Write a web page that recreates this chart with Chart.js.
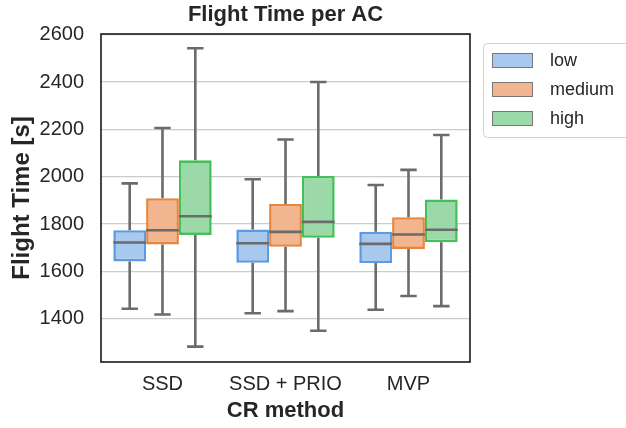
<!DOCTYPE html>
<html>
<head>
<meta charset="utf-8">
<script src="https://cdn.jsdelivr.net/npm/chart.js@4"></script>
<style>
  html, body { margin: 0; padding: 0; background: #ffffff; }
  #wrap { width: 626px; height: 428px; }
</style>
</head>
<body>
<div id="wrap"><canvas id="c" width="626" height="428"></canvas></div>
<script>
// ---- data ----
const categories = ['SSD', 'SSD + PRIO', 'MVP'];
const seriesNames = ['low', 'medium', 'high'];
// each entry: [whiskerLow, q1, median, q3, whiskerHigh]
const lowBoxes    = [[1442, 1642, 1722, 1774, 1972], [1423, 1636, 1719, 1777, 1989], [1438, 1635, 1716, 1767, 1965]];
const mediumBoxes = [[1418, 1714, 1774, 1909, 2206], [1432, 1704, 1767, 1885, 2157], [1496, 1695, 1756, 1829, 2029]];
const highBoxes   = [[1282, 1754, 1833, 2069, 2543], [1349, 1742, 1809, 2003, 2400], [1453, 1723, 1776, 1904, 2176]];
const yTicks = [1400, 1600, 1800, 2000, 2200, 2400, 2600];

const fillColors = ['#a9c8ee', '#f1b68f', '#9cd9a8'];
const edgeColors = ['#5b9be0', '#e8843c', '#45bf5a'];
const seriesBoxes = [lowBoxes, mediumBoxes, highBoxes];

const FONT = '"Liberation Sans", Arial, sans-serif';
const TEXT = '#262626';
const WHISKER = '#6b6b6b';

const boxPlugin = {
  id: 'boxParts',
  afterDatasetsDraw(chart) {
    const ctx = chart.ctx;
    const y = chart.scales.y;
    ctx.save();
    ctx.strokeStyle = WHISKER;
    ctx.lineWidth = 2.6;
    ctx.lineCap = 'butt';
    chart.data.datasets.forEach((ds, di) => {
      const meta = chart.getDatasetMeta(di);
      meta.data.forEach((el, i) => {
        const s = ds.stats[i];
        const cx = el.x;
        const w = el.width;
        const pMin = y.getPixelForValue(s[0]);
        const pQ1 = y.getPixelForValue(s[1]);
        const pMed = y.getPixelForValue(s[2]);
        const pQ3 = y.getPixelForValue(s[3]);
        const pMax = y.getPixelForValue(s[4]);
        ctx.beginPath();
        ctx.moveTo(cx, pQ3); ctx.lineTo(cx, pMax);
        ctx.moveTo(cx, pQ1); ctx.lineTo(cx, pMin);
        ctx.moveTo(cx - w / 4, pMax); ctx.lineTo(cx + w / 4, pMax);
        ctx.moveTo(cx - w / 4, pMin); ctx.lineTo(cx + w / 4, pMin);
        ctx.moveTo(cx - w / 2, pMed); ctx.lineTo(cx + w / 2, pMed);
        ctx.stroke();
      });
    });
    ctx.restore();
  },
  afterDraw(chart) {
    const ctx = chart.ctx;
    const a = chart.chartArea;
    ctx.save();
    // frame
    ctx.strokeStyle = '#1a1a1a';
    ctx.lineWidth = 1.6;
    ctx.strokeRect(a.left, a.top, a.right - a.left, a.bottom - a.top);
    // legend
    const lx = a.right + 13, ly = a.top + 9, lw = 150, lh = 94;
    ctx.fillStyle = '#ffffff';
    ctx.strokeStyle = '#d0d0d0';
    ctx.lineWidth = 1;
    ctx.beginPath();
    ctx.roundRect(lx + 0.5, ly + 0.5, lw, lh, 4);
    ctx.fill();
    ctx.stroke();
    ctx.font = '18px ' + FONT;
    ctx.textBaseline = 'middle';
    ctx.textAlign = 'left';
    chart.data.datasets.forEach((ds, i) => {
      const ry = ly + 17 + i * 29;
      ctx.fillStyle = ds.backgroundColor;
      ctx.fillRect(lx + 9, ry - 7, 40, 14);
      ctx.strokeStyle = '#777777';
      ctx.lineWidth = 1;
      ctx.strokeRect(lx + 9.5, ry - 6.5, 40, 14);
      ctx.fillStyle = TEXT;
      ctx.fillText(ds.label, lx + 67, ry + 1);
    });
    ctx.restore();
  }
};

const datasets = seriesNames.map((name, k) => ({
  label: name,
  data: seriesBoxes[k].map(b => [b[1], b[3]]),
  stats: seriesBoxes[k],
  backgroundColor: fillColors[k],
  borderColor: edgeColors[k],
  borderWidth: 2.6,
  borderSkipped: false,
  categoryPercentage: 0.8,
  barPercentage: 1.0
}));

new Chart(document.getElementById('c'), {
  type: 'bar',
  data: { labels: categories, datasets },
  plugins: [boxPlugin],
  options: {
    responsive: false,
    animation: false,
    devicePixelRatio: 1,
    layout: { padding: { left: 0, right: 156, top: 0, bottom: 0 } },
    plugins: {
      legend: { display: false },
      tooltip: { enabled: false },
      title: {
        display: true,
        text: 'Flight Time per AC',
        fullSize: false,
        color: TEXT,
        font: { family: FONT, size: 22, weight: 'bold' },
        padding: { top: 2, bottom: 5.6 }
      }
    },
    scales: {
      x: {
        grid: { display: false, drawTicks: false },
        border: { display: false },
        ticks: { color: TEXT, font: { family: FONT, size: 20 }, padding: 10 },
        title: {
          display: true, text: 'CR method', color: TEXT,
          font: { family: FONT, size: 22, weight: 'bold' },
          padding: { top: 0, bottom: 4 }
        },
        afterFit(scale) { scale.height = 66; }
      },
      y: {
        min: 1217,
        max: 2603,
        grid: { color: '#cccccc', lineWidth: 1.3, drawTicks: false },
        border: { display: false },
        ticks: {
          color: TEXT, font: { family: FONT, size: 20 }, padding: 17,
          callback: (v) => String(v)
        },
        afterBuildTicks(scale) { scale.ticks = yTicks.map(v => ({ value: v })); },
        title: {
          display: true, text: 'Flight Time [s]', color: TEXT,
          font: { family: FONT, size: 24, weight: 'bold' },
          padding: { top: 8, bottom: 0 }
        },
        afterFit(scale) { scale.width = 101; }
      }
    }
  }
});
</script>
</body>
</html>
